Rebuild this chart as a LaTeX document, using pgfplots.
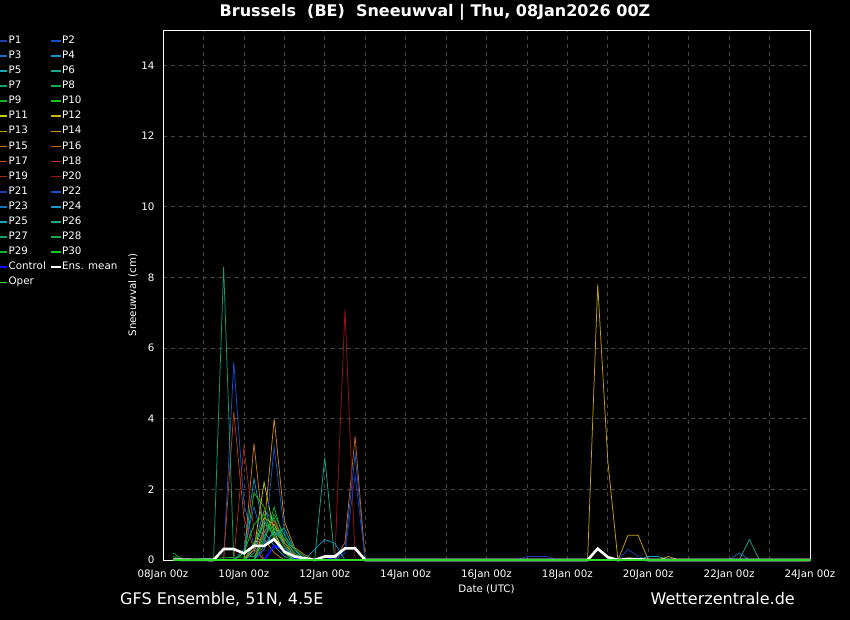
\documentclass[border=0pt]{standalone}
\usepackage{pgfplots}
\pgfplotsset{compat=1.18}
\usepackage{fontspec}
\setmainfont{DejaVu Sans}

% member colours, as in the legend
\definecolor{mA}{HTML}{1A3CB4}
\definecolor{mB}{HTML}{1452C8}
\definecolor{mC}{HTML}{1470C0}
\definecolor{mD}{HTML}{1496C8}
\definecolor{mE}{HTML}{14AAB4}
\definecolor{mF}{HTML}{14A888}
\definecolor{mG}{HTML}{14A064}
\definecolor{mH}{HTML}{14A848}
\definecolor{mI}{HTML}{14B428}
\definecolor{mJ}{HTML}{14C814}
\definecolor{mK}{HTML}{C8C814}
\definecolor{mL}{HTML}{C8B414}
\definecolor{mM}{HTML}{C8A014}
\definecolor{mN}{HTML}{C88C14}
\definecolor{mO}{HTML}{C87814}
\definecolor{mP}{HTML}{C06414}
\definecolor{mQ}{HTML}{C05014}
\definecolor{mR}{HTML}{B83C14}
\definecolor{mS}{HTML}{A82814}
\definecolor{mT}{HTML}{981414}
\definecolor{ctrl}{HTML}{1010FF}
\definecolor{oper}{HTML}{30D830}
\definecolor{gridc}{HTML}{464646}

\newcommand{\lbl}{\fontsize{10.3}{12}\selectfont}

\begin{document}
\begin{tikzpicture}[x=1pt,y=1pt]
\fill[black] (0,0) rectangle (850,620);
\begin{axis}[
  at={(163pt,60pt)}, anchor=south west,
  scale only axis, width=647pt, height=530pt,
  xmin=0, xmax=384, ymin=0, ymax=15,
  xtick={0,48,...,384},
  xticklabels={08Jan 00z,10Jan 00z,12Jan 00z,14Jan 00z,16Jan 00z,18Jan 00z,20Jan 00z,22Jan 00z,24Jan 00z},
  minor xtick={24,72,...,360},
  ytick={0,2,...,14},
  grid=both,
  major grid style={dash pattern=on 4pt off 4pt, draw=gridc, line width=0.7pt},
  minor grid style={dash pattern=on 4pt off 4pt, draw=gridc, line width=0.7pt},
  major tick length=0pt, minor tick length=0pt,
  axis line style={white, line width=0.8pt},
  ticklabel style={white, font=\lbl},
  xticklabel style={yshift=-6pt},
  yticklabel style={xshift=-5pt},
  /pgf/number format/assume math mode=true,
  xlabel={Date (UTC)}, ylabel={Sneeuwval (cm)},
  label style={white, font=\lbl},
  xlabel style={at={(axis description cs:0.5,-0.0547)}, anchor=center},
  ylabel style={at={(axis description cs:-0.0464,0.5)}, anchor=center},
  clip=false,
  legend columns=2,
  legend cell align=left,
  legend style={
    at={(axis description cs:-0.2573,0.9892)}, anchor=north west,
    draw=none, fill=none, inner sep=0pt, outer sep=0pt,
    text=white, font=\lbl,
    nodes={inner sep=0pt, text height=7.6pt, text depth=2.4pt},
    row sep=5.1pt,
    /tikz/every odd column/.append style={column sep=0.5pt},
    /tikz/every even column/.append style={column sep=4.2pt},
  },
  legend image code/.code={\draw[#1,line width=1.6pt] (0pt,0pt) -- (10pt,0pt);},
  every axis plot/.append style={line width=0.75pt},
]
% P1 .. P10
\addplot[mA] coordinates {(6,0)(210,0)(216,0.1)(222,0.1)(228,0.1)(234,0)(270,0)(276,0.3)(282,0.1)(288,0)(384,0)};
\addplot[mB] coordinates {(6,0)(36,0)(42,5.6)(48,1.6)(54,0.4)(60,0)(102,0)(108,0.3)(114,3.0)(120,0)(384,0)};
\addplot[mC] coordinates {(6,0)(54,0)(60,0.3)(66,0.9)(72,0.4)(78,0)(336,0)(342,0.2)(348,0)(384,0)};
\addplot[mD] coordinates {(6,0)(42,0)(48,0.2)(54,2.3)(60,0.8)(66,0.4)(72,0.1)(78,0)(384,0)};
\addplot[mE] coordinates {(6,0)(48,0)(54,0.4)(60,1.4)(66,1.1)(72,0.6)(78,0.3)(84,0)(282,0)(288,0.1)(294,0.1)(300,0)(384,0)};
\addplot[mF] coordinates {(6,0)(54,0)(60,0.4)(66,0.8)(72,0.5)(78,0.2)(84,0)(90,0)(96,2.9)(102,0)(384,0)};
\addplot[mG] coordinates {(6,0)(54,0)(60,0.7)(66,1.0)(72,0.4)(78,0.1)(84,0)(384,0)};
\addplot[mH] coordinates {(6,0)(54,0.1)(60,0.5)(66,1.5)(72,0.5)(78,0.1)(84,0)(384,0)};
\addplot[mI] coordinates {(6,0.2)(12,0)(54,0)(60,0.8)(66,1.2)(72,0.4)(78,0)(384,0)};
\addplot[mJ] coordinates {(6,0)(48,0)(54,1.9)(60,1.5)(66,0.7)(72,0.3)(78,0)(384,0)};
% P11 .. P20
\addplot[mK] coordinates {(6,0)(48,0)(54,0.3)(60,2.2)(66,0.8)(72,0.2)(78,0)(384,0)};
\addplot[mL] coordinates {(6,0)(48,0)(54,0.3)(60,1.2)(66,1.0)(72,0.5)(78,0.1)(84,0)(384,0)};
\addplot[mM] coordinates {(6,0)(252,0)(258,7.8)(264,2.8)(270,0)(276,0.7)(282,0.7)(288,0)(294,0)(300,0.1)(306,0)(384,0)};
\addplot[mN] coordinates {(6,0)(54,0)(60,0.9)(66,4.0)(72,1.1)(78,0.35)(84,0.15)(90,0)(384,0)};
\addplot[mO] coordinates {(6,0)(48,0)(54,3.3)(60,0.6)(66,0.2)(72,0)(384,0)};
\addplot[mP] coordinates {(6,0)(102,0)(108,0.5)(114,3.5)(120,0)(384,0)};
\addplot[mQ] coordinates {(6,0)(48,0)(54,0.3)(60,0.8)(66,1.1)(72,0.5)(78,0.15)(84,0)(384,0)};
\addplot[mR] coordinates {(6,0)(36,0)(42,4.2)(48,1.2)(54,0.3)(60,0)(384,0)};
\addplot[mS] coordinates {(6,0)(42,0)(48,3.2)(54,0.8)(60,0)(384,0)};
\addplot[mT] coordinates {(6,0)(102,0)(108,7.1)(114,0)(384,0)};
% P21 .. P30
\addplot[mA] coordinates {(6,0)(102,0)(108,0.2)(114,2.4)(120,0)(384,0)};
\addplot[mB] coordinates {(6,0)(54,0)(60,0.3)(66,3.2)(72,0.8)(78,0)(384,0)};
\addplot[mC] coordinates {(6,0)(42,0)(48,0.3)(54,1.5)(60,0.5)(66,0.6)(72,0.2)(78,0)(384,0)};
\addplot[mD] coordinates {(6,0)(84,0)(90,0.3)(96,0.58)(102,0.47)(108,0)(384,0)};
\addplot[mE] coordinates {(6,0)(48,0)(54,0.2)(60,1.1)(66,0.7)(72,0.9)(78,0.3)(84,0)(384,0)};
\addplot[mF] coordinates {(6,0)(342,0)(348,0.58)(354,0)(384,0)};
\addplot[mG] coordinates {(6,0)(30,0)(36,8.3)(42,0)(384,0)};
\addplot[mH] coordinates {(6,0)(54,0)(60,0.6)(66,1.3)(72,0.7)(78,0.3)(84,0.1)(90,0)(384,0)};
\addplot[mI] coordinates {(6,0.1)(12,0)(48,0)(54,0.5)(60,1.0)(66,0.9)(72,0.6)(78,0.2)(84,0)(384,0)};
\addplot[mJ] coordinates {(6,0)(42,0)(48,0.2)(54,1.0)(60,1.3)(66,0.6)(72,0.2)(78,0)(384,0)};
% control, mean, oper
\addplot[ctrl, line width=1.8pt] coordinates {(6,0)(60,0)(66,0.4)(72,0.3)(78,0.05)(84,0)(90,0)(96,0.1)(102,0)(384,0)};
\addplot[white, line width=2.6pt] coordinates {(6,0.01)(30,0)(36,0.31)(42,0.31)(48,0.19)(54,0.4)(60,0.4)(66,0.59)(72,0.24)(78,0.1)(84,0.05)(90,0)(96,0.1)(102,0.1)(108,0.33)(114,0.33)(120,0)(252,0)(258,0.32)(264,0.08)(270,0)(276,0.03)(282,0.02)(288,0)(384,0)};
\addplot[oper, line width=1.6pt] coordinates {(6,0)(384,0)};
\legend{P1,P2,P3,P4,P5,P6,P7,P8,P9,P10,P11,P12,P13,P14,P15,P16,P17,P18,P19,P20,P21,P22,P23,P24,P25,P26,P27,P28,P29,P30,Control,Ens. mean,Oper}
\end{axis}
\node[anchor=base, white, inner sep=0pt, font=\bfseries\fontsize{16}{19}\selectfont] at (435,603) {Brussels\ \ (BE)\ \ Sneeuwval | Thu, 08Jan2026 00Z};
\node[anchor=base west, white, inner sep=0pt, font=\fontsize{16}{19}\selectfont] at (120,15.7) {GFS Ensemble, 51N, 4.5E};
\node[anchor=base east, white, inner sep=0pt, font=\fontsize{16}{19}\selectfont] at (795,15.7) {Wetterzentrale.de};
\pgfresetboundingbox
\useasboundingbox (0,0) rectangle (850,620);
\end{tikzpicture}
\end{document}
